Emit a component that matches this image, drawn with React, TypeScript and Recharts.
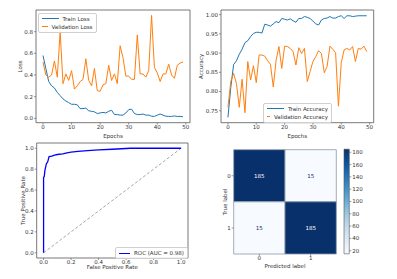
import React from "react";
import {
  Label,
  Line,
  LineChart,
  ReferenceArea,
  ReferenceLine,
  Scatter,
  ScatterChart,
  XAxis,
  YAxis,
} from "recharts";

const FONT = "DejaVu Sans";
const FS = 5.5;
const AXIS = "#555";
const TEXT = "#333";
const BLUE = "#1f77b4";
const ORANGE = "#ff7f0e";

// training history, one value per epoch (0..49)
const trainLoss = [
  0.58, 0.46, 0.34, 0.3, 0.28, 0.24, 0.21, 0.18, 0.16, 0.145,
  0.13, 0.13, 0.125, 0.09, 0.09, 0.095, 0.07, 0.065, 0.06, 0.045,
  0.05, 0.055, 0.05, 0.065, 0.075, 0.035, 0.035, 0.03, 0.03, 0.05,
  0.08, 0.085, 0.045, 0.035, 0.035, 0.04, 0.03, 0.03, 0.02, 0.018,
  0.03, 0.04, 0.03, 0.02, 0.018, 0.018, 0.022, 0.018, 0.018, 0.015,
];
const valLoss = [
  0.52, 0.4, 0.38, 0.4, 0.53, 0.38, 0.8, 0.32, 0.41, 0.35,
  0.44, 0.27, 0.3, 0.34, 0.36, 0.55, 0.35, 0.3, 0.46, 0.255,
  0.25, 0.31, 0.32, 0.49, 0.35, 0.41, 0.32, 0.67, 0.56, 0.39,
  0.39, 0.36, 0.36, 0.77, 0.41, 0.41, 0.38, 0.44, 0.95, 0.47,
  0.42, 0.34, 0.41, 0.41, 0.5, 0.4, 0.37, 0.49, 0.51, 0.52,
];
const trainAcc = [
  0.733, 0.81, 0.87, 0.88, 0.897, 0.91, 0.927, 0.932, 0.943, 0.951,
  0.954, 0.954, 0.952, 0.975, 0.973, 0.97, 0.976, 0.982, 0.979, 0.99,
  0.988, 0.986, 0.989, 0.984, 0.98, 0.99, 0.99, 0.995, 0.993, 0.99,
  0.983, 0.976, 0.973, 0.986, 0.99, 0.991, 0.995, 0.991, 0.991, 0.995,
  0.997, 0.99, 0.997, 0.997, 0.995, 0.996, 0.997, 0.997, 0.997, 0.997,
];
const valAcc = [
  0.759, 0.826, 0.847, 0.821, 0.759, 0.832, 0.745, 0.878, 0.83, 0.867,
  0.823, 0.895, 0.895, 0.892, 0.88, 0.871, 0.812, 0.881, 0.917, 0.86,
  0.918, 0.917, 0.912, 0.904, 0.869, 0.914, 0.899, 0.912, 0.826, 0.852,
  0.878, 0.891, 0.906, 0.899, 0.849, 0.865, 0.918, 0.91, 0.901, 0.762,
  0.875, 0.908, 0.912, 0.908, 0.917, 0.878, 0.912, 0.91, 0.918, 0.904,
];

// ROC curve
const rocFpr = [0, 0, 0.005, 0.01, 0.015, 0.02, 0.025, 0.03, 0.04, 0.06, 0.08, 0.1, 0.14, 0.17, 0.2, 0.25, 0.32, 0.4, 0.5, 0.63, 1.0];
const rocTpr = [0, 0.72, 0.73, 0.79, 0.82, 0.85, 0.86, 0.87, 0.92, 0.925, 0.935, 0.94, 0.945, 0.955, 0.962, 0.97, 0.978, 0.985, 0.99, 1.0, 1.0];
const rocAuc = 0.98;

// confusion matrix
const cmLabels = [0, 1];
const cmValues = [
  [185, 15],
  [15, 185],
];
const cbTicks = [20, 40, 60, 80, 100, 120, 140, 160, 180];

const epochTicks = [0, 10, 20, 30, 40, 50];
const lossTicks = [0, 0.2, 0.4, 0.6, 0.8];
const accTicks = [0.75, 0.8, 0.85, 0.9, 0.95, 1.0];
const rocTicks = [0, 0.2, 0.4, 0.6, 0.8, 1.0];

const historyData = trainLoss.map((v, i) => ({
  epoch: i,
  trainLoss: v,
  valLoss: valLoss[i],
  trainAcc: trainAcc[i],
  valAcc: valAcc[i],
}));
const rocData = rocFpr.map((f, i) => ({ fpr: f, tpr: rocTpr[i] }));
const cmCells = cmValues.flatMap((row, r) => row.map((v, c) => ({ row: r, col: c, value: v })));
const cmMin = Math.min(...cmCells.map((d) => d.value));
const cmMax = Math.max(...cmCells.map((d) => d.value));

const BLUES = ["#f7fbff", "#deebf7", "#c6dbef", "#9ecae1", "#6baed6", "#4292c6", "#2171b5", "#08519c", "#08306b"];

function blues(t: number) {
  const x = Math.max(0, Math.min(1, t)) * (BLUES.length - 1);
  const i = Math.min(Math.floor(x), BLUES.length - 2);
  const f = x - i;
  const a = BLUES[i];
  const b = BLUES[i + 1];
  const ch = (s: string, k: number) => parseInt(s.slice(1 + k * 2, 3 + k * 2), 16);
  const mix = [0, 1, 2].map((k) => Math.round(ch(a, k) + (ch(b, k) - ch(a, k)) * f));
  return `rgb(${mix.join(",")})`;
}

const tick = { fontSize: FS, fill: TEXT, fontFamily: FONT };
const tickLine = { stroke: AXIS, strokeWidth: 0.6 };

function yTitle(text: string, dx: number) {
  return {
    content: (props: any) => {
      const vb = props.viewBox;
      const x = vb.x + dx;
      const y = vb.y + vb.height / 2;
      return (
        <text
          x={x}
          y={y}
          transform={`rotate(-90, ${x}, ${y})`}
          textAnchor="middle"
          dominantBaseline="central"
          fontSize={FS}
          fontFamily={FONT}
          fill={TEXT}
        >
          {text}
        </text>
      );
    },
  };
}

function xTitle(text: string) {
  return { value: text, position: "insideBottom" as const, offset: 1, fontSize: FS, fontFamily: FONT, fill: TEXT };
}

function MplLegend({
  items,
  style,
  align = "left",
}: {
  items: { label: string; color: string; width?: number }[];
  style: React.CSSProperties;
  align?: "left" | "right";
}) {
  return (
    <div
      style={{
        position: "absolute",
        background: "rgba(255,255,255,0.8)",
        border: "0.7px solid #d0d0d0",
        borderRadius: 2,
        padding: "1px 3px",
        fontFamily: FONT,
        fontSize: FS,
        color: TEXT,
        lineHeight: "8px",
        ...style,
      }}
    >
      {items.map((it) => (
        <div key={it.label} style={{ display: "flex", alignItems: "center", whiteSpace: "nowrap" }}>
          <span
            style={{
              display: "inline-block",
              width: 17,
              borderTop: `${it.width ?? 1}px solid ${it.color}`,
              marginRight: 4,
            }}
          />
          <span style={{ flex: 1, textAlign: align }}>{it.label}</span>
        </div>
      ))}
    </div>
  );
}

function LossChart() {
  const [x0, x1] = [-2.45, 51.45];
  const [y0, y1] = [-0.04, 1.0];
  return (
    <div style={{ position: "absolute", left: 0, top: 0, width: 197, height: 139 }}>
      <LineChart width={197} height={139} data={historyData} margin={{ top: 10, right: 7, left: 16, bottom: 0 }}>
        <XAxis
          dataKey="epoch"
          type="number"
          domain={[x0, x1]}
          ticks={epochTicks}
          allowDataOverflow
          axisLine={false}
          tickLine={tickLine}
          tickSize={2}
          tickMargin={0.5}
          tick={tick}
          height={16.3}
          label={xTitle("Epochs")}
        />
        <YAxis
          type="number"
          domain={[y0, y1]}
          ticks={lossTicks}
          allowDataOverflow
          axisLine={false}
          tickLine={tickLine}
          tickSize={2}
          tickMargin={1}
          tick={tick}
          width={20}
          tickFormatter={(v) => Number(v).toFixed(1)}
          label={yTitle("Loss", 4)}
        />
        <ReferenceArea x1={x0} x2={x1} y1={y0} y2={y1} fill="none" stroke={AXIS} strokeWidth={0.8} ifOverflow="visible" />
        <Line dataKey="trainLoss" stroke={BLUE} strokeWidth={1} dot={false} isAnimationActive={false} />
        <Line dataKey="valLoss" stroke={ORANGE} strokeWidth={1} dot={false} isAnimationActive={false} />
      </LineChart>
      <MplLegend
        style={{ left: 37.5, top: 12.7, width: 51 }}
        items={[
          { label: "Train Loss", color: BLUE },
          { label: "Validation Loss", color: ORANGE },
        ]}
      />
    </div>
  );
}

function AccuracyChart() {
  const [x0, x1] = [-2.45, 51.45];
  const [y0, y1] = [0.719, 1.012];
  return (
    <div style={{ position: "absolute", left: 197, top: 0, width: 200, height: 139 }}>
      <LineChart width={200} height={139} data={historyData} margin={{ top: 10, right: 23.3, left: 4, bottom: 0 }}>
        <XAxis
          dataKey="epoch"
          type="number"
          domain={[x0, x1]}
          ticks={epochTicks}
          allowDataOverflow
          axisLine={false}
          tickLine={tickLine}
          tickSize={2}
          tickMargin={0.5}
          tick={tick}
          height={16.3}
          label={xTitle("Epochs")}
        />
        <YAxis
          type="number"
          domain={[y0, y1]}
          ticks={accTicks}
          allowDataOverflow
          axisLine={false}
          tickLine={tickLine}
          tickSize={2}
          tickMargin={1}
          tick={tick}
          width={20}
          tickFormatter={(v) => Number(v).toFixed(2)}
          label={yTitle("Accuracy", 0.5)}
        />
        <ReferenceArea x1={x0} x2={x1} y1={y0} y2={y1} fill="none" stroke={AXIS} strokeWidth={0.8} ifOverflow="visible" />
        <Line dataKey="trainAcc" stroke={BLUE} strokeWidth={1} dot={false} isAnimationActive={false} />
        <Line dataKey="valAcc" stroke={ORANGE} strokeWidth={1} dot={false} isAnimationActive={false} />
      </LineChart>
      <MplLegend
        style={{ left: 66, top: 102.7, width: 61 }}
        items={[
          { label: "Train Accuracy", color: BLUE },
          { label: "Validation Accuracy", color: ORANGE },
        ]}
      />
    </div>
  );
}

function RocChart() {
  const [a0, a1] = [-0.05, 1.05];
  return (
    <div style={{ position: "absolute", left: 0, top: 139, width: 197, height: 140 }}>
      <LineChart width={197} height={140} data={rocData} margin={{ top: 4, right: 9, left: 16.7, bottom: 0 }}>
        <XAxis
          dataKey="fpr"
          type="number"
          domain={[a0, a1]}
          ticks={rocTicks}
          allowDataOverflow
          axisLine={false}
          tickLine={tickLine}
          tickSize={2}
          tickMargin={0.5}
          tick={tick}
          height={21}
          tickFormatter={(v) => Number(v).toFixed(1)}
          label={{ ...xTitle("False Positive Rate"), offset: 10 }}
        />
        <YAxis
          type="number"
          domain={[a0, a1]}
          ticks={rocTicks}
          allowDataOverflow
          axisLine={false}
          tickLine={tickLine}
          tickSize={2}
          tickMargin={1}
          tick={tick}
          width={20}
          tickFormatter={(v) => Number(v).toFixed(1)}
          label={yTitle("True Positive Rate", 6)}
        />
        <ReferenceArea x1={a0} x2={a1} y1={a0} y2={a1} fill="none" stroke={AXIS} strokeWidth={0.8} ifOverflow="visible" />
        <ReferenceLine
          segment={[
            { x: 0, y: 0 },
            { x: 1, y: 1 },
          ]}
          stroke="#808080"
          strokeWidth={0.7}
          strokeDasharray="3 2"
        />
        <Line dataKey="tpr" stroke="#0000ff" strokeWidth={1.3} dot={false} isAnimationActive={false} />
      </LineChart>
      <MplLegend
        align="right"
        style={{ left: 115, top: 108.3, width: 65 }}
        items={[{ label: `ROC (AUC = ${rocAuc.toFixed(2)})`, color: "#0000ff", width: 1.3 }]}
      />
    </div>
  );
}

function ConfusionMatrix() {
  const [d0, d1] = [-0.5, 1.5];
  return (
    <div style={{ position: "absolute", left: 197, top: 139, width: 200, height: 140 }}>
      <ScatterChart width={200} height={140} margin={{ top: 10.7, right: 60.7, left: 20.7, bottom: 0 }}>
        <XAxis
          dataKey="col"
          type="number"
          domain={[d0, d1]}
          ticks={cmLabels}
          allowDataOverflow
          axisLine={false}
          tickLine={tickLine}
          tickSize={2}
          tickMargin={0.5}
          tick={tick}
          height={25}
          label={{ ...xTitle("Predicted label"), offset: 11 }}
        />
        <YAxis
          dataKey="row"
          type="number"
          domain={[d0, d1]}
          ticks={cmLabels}
          reversed
          allowDataOverflow
          axisLine={false}
          tickLine={tickLine}
          tickSize={2}
          tickMargin={1}
          tick={tick}
          width={16}
          label={yTitle("True label", 7.6)}
        />
        {cmCells.map((d) => {
          const t = (d.value - cmMin) / (cmMax - cmMin);
          return (
            <ReferenceArea
              key={`${d.row}-${d.col}`}
              x1={d.col - 0.5}
              x2={d.col + 0.5}
              y1={d.row - 0.5}
              y2={d.row + 0.5}
              fill={blues(t)}
              fillOpacity={1}
              stroke="#8c99a8"
              strokeWidth={0.8}
              ifOverflow="visible"
            >
              <Label
                value={String(d.value)}
                position="center"
                fontSize={FS}
                fontFamily={FONT}
                fill={t > 0.5 ? "#ffffff" : "#08306b"}
              />
            </ReferenceArea>
          );
        })}
        <Scatter data={cmCells} shape={() => <g />} isAnimationActive={false} />
      </ScatterChart>
    </div>
  );
}

function ColorBar() {
  const [v0, v1] = [cmMin, cmMax];
  return (
    <div style={{ position: "absolute", left: 337, top: 139, width: 60, height: 140 }}>
      <ScatterChart width={60} height={140} margin={{ top: 10.2, right: 0, left: 7, bottom: 25.2 }}>
        <defs>
          <linearGradient id="bluesBar" x1="0" y1="1" x2="0" y2="0">
            {BLUES.map((c, i) => (
              <stop key={c} offset={i / (BLUES.length - 1)} stopColor={c} />
            ))}
          </linearGradient>
        </defs>
        <XAxis dataKey="x" type="number" domain={[0, 1]} hide />
        <YAxis
          dataKey="y"
          type="number"
          orientation="right"
          domain={[v0, v1]}
          ticks={cbTicks}
          allowDataOverflow
          axisLine={false}
          tickLine={tickLine}
          tickSize={2}
          tickMargin={1}
          tick={{ ...tick, textAnchor: "start" }}
          width={47.7}
        />
        <ReferenceArea
          x1={0}
          x2={1}
          y1={v0}
          y2={v1}
          fill="url(#bluesBar)"
          fillOpacity={1}
          stroke={AXIS}
          strokeWidth={0.6}
          ifOverflow="visible"
        />
        <Scatter data={[{ x: 0, y: v0 }]} shape={() => <g />} isAnimationActive={false} />
      </ScatterChart>
    </div>
  );
}

export default function App() {
  return (
    <div style={{ position: "absolute", left: 0, top: 0, width: 397, height: 279, background: "#fff" }}>
      <LossChart />
      <AccuracyChart />
      <RocChart />
      <ConfusionMatrix />
      <ColorBar />
    </div>
  );
}
